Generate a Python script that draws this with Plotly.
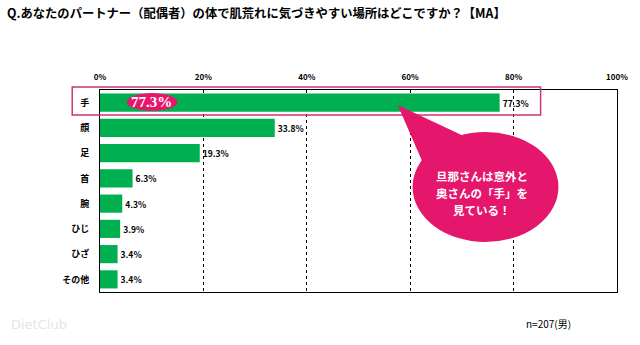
import plotly.graph_objects as go

categories = ["手", "顔", "足", "首", "腕", "ひじ", "ひざ", "その他"]
values = [77.3, 33.8, 19.3, 6.3, 4.3, 3.9, 3.4, 3.4]
tick_vals = [0, 20, 40, 60, 80, 100]
tick_text = ["0%", "20%", "40%", "60%", "80%", "100%"]
bubble_lines = ["旦那さんは意外と", "奥さんの「手」を", "見ている！"]

FONT = "Noto Sans CJK JP"
PINK = "#e5176c"

fig = go.Figure()
fig.add_trace(go.Bar(
    x=values, y=categories, orientation="h",
    marker=dict(color="#00b050", line=dict(width=0)),
    width=0.72,
    text=[f"{v:.1f}%" for v in values],
    textposition="outside",
    textfont=dict(family=FONT, size=8.5, color="black", weight="bold"),
    cliponaxis=False,
))

fig.update_layout(
    width=640, height=345,
    margin=dict(l=100, r=19, t=90, b=53),
    paper_bgcolor="white", plot_bgcolor="white",
    showlegend=False,
    font=dict(family=FONT, color="black"),
    bargap=0.28,
)
fig.update_xaxes(
    range=[0, 100], side="top", tickvals=tick_vals, ticktext=tick_text,
    tickfont=dict(family=FONT, size=8, color="black", weight="bold"),
    showgrid=True, gridcolor="black", griddash="dot", gridwidth=1,
    showline=True, linecolor="black", linewidth=1, mirror=True,
    zeroline=False, ticks="", fixedrange=True, ticklabelstandoff=6,
)
fig.update_yaxes(
    categoryorder="array", categoryarray=categories, autorange="reversed",
    tickfont=dict(family=FONT, size=9, color="black", weight="bold"),
    showline=True, linecolor="black", linewidth=1, mirror=True,
    showgrid=False, ticks="", ticklabelstandoff=8,
)

def px(x):
    return (x - 100) / 521

def py(y):
    return (292 - y) / 202

shapes = [
    dict(type="rect", xref="paper", yref="paper",
         x0=px(72), x1=px(544), y0=py(115), y1=py(87),
         line=dict(color="#cc3377", width=1.5), fillcolor="rgba(0,0,0,0)"),
    dict(type="circle", xref="paper", yref="paper",
         x0=px(127), x1=px(178), y0=py(111), y1=py(93),
         line=dict(color=PINK, width=0), fillcolor=PINK),
    dict(type="path", xref="paper", yref="paper",
         path=f"M {px(400)},{py(105)} L {px(432)},{py(178)} L {px(475)},{py(140)} Z",
         line=dict(color=PINK, width=0), fillcolor=PINK),
    dict(type="circle", xref="paper", yref="paper",
         x0=px(415), x1=px(562), y0=py(242), y1=py(132),
         line=dict(color=PINK, width=0), fillcolor=PINK),
]
fig.update_layout(shapes=shapes)

annotations = [
    dict(text="Q.あなたのパートナー（配偶者）の体で肌荒れに気づきやすい場所はどこですか？【MA】",
         xref="paper", yref="paper", x=px(4), y=py(13), xanchor="left", yanchor="middle",
         showarrow=False, font=dict(family=FONT, size=12.3, color="black", weight="bold")),
    dict(text="77.3%", xref="paper", yref="paper", x=px(152), y=py(102),
         xanchor="center", yanchor="middle", showarrow=False,
         font=dict(family="Liberation Serif", size=15, color="white", weight="bold")),
    dict(text="n=207(男)", xref="paper", yref="paper", x=px(527), y=py(323),
         xanchor="left", yanchor="middle", showarrow=False,
         font=dict(family=FONT, size=10, color="black")),
    dict(text="DietClub", xref="paper", yref="paper", x=px(8), y=py(324),
         xanchor="left", yanchor="middle", showarrow=False,
         font=dict(family="DejaVu Sans", size=13, color="#e6e6e6")),
]
for i, line in enumerate(bubble_lines):
    annotations.append(dict(
        text=line, xref="paper", yref="paper", x=px(485), y=py(176 + 17 * i),
        xanchor="center", yanchor="middle", showarrow=False,
        font=dict(family=FONT, size=11.5, color="white", weight="bold"),
        borderpad=0,
    ))
fig.update_layout(annotations=annotations)

fig.write_html("out.html")
